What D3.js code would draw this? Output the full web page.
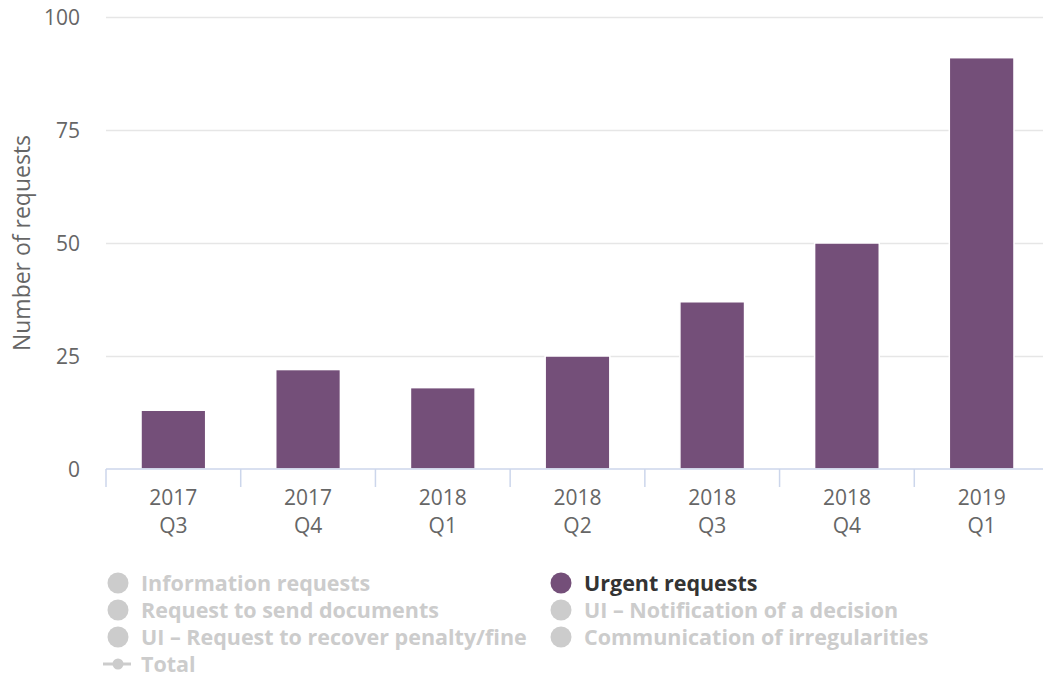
<!DOCTYPE html>
<html><head><meta charset="utf-8">
<script src="https://cdn.jsdelivr.net/npm/d3@7"></script>
<style>
html,body{margin:0;padding:0;background:#fff;overflow:hidden}
svg{display:block;font-family:"Open Sans","Noto Sans",sans-serif}
</style></head>
<body><svg id="c" width="1043" height="679"></svg>
<script>
const years = ["2017","2017","2018","2018","2018","2018","2019"];
const quarters = ["Q3","Q4","Q1","Q2","Q3","Q4","Q1"];
const categories = years.map((y,i)=>y+" "+quarters[i]);
const urgentRequests = [13, 22, 18, 25, 37, 50, 91];
const yTicks = [0, 25, 50, 75, 100];
const legendItems = ["Information requests","Urgent requests","Request to send documents","UI – Notification of a decision","UI – Request to recover penalty/fine","Communication of irregularities","Total"];
const legendActive = [false,true,false,false,false,false,false];
const barColor = "#744f79";

const svg = d3.select("#c");
const L = 106, R = 1049, T = 17, B = 469;
const x = d3.scaleBand().domain(categories).range([L,R]).paddingInner(0.52).paddingOuter(0.26);
const y = d3.scaleLinear().domain([0,100]).range([B,T]);

// gridlines
svg.append("g").selectAll("line").data(yTicks.filter(d=>d>0)).join("line")
  .attr("x1",L).attr("x2",1043).attr("y1",d=>Math.round(y(d))+0.5).attr("y2",d=>Math.round(y(d))+0.5)
  .attr("stroke","#e6e6e6").attr("stroke-width",1.5);

// y labels
svg.append("g").selectAll("text").data(yTicks).join("text")
  .attr("x",80).attr("y",d=>y(d)+7.5).attr("text-anchor","end")
  .attr("font-size",21).attr("fill","#666").text(d=>d);

// axis title
svg.append("text").attr("transform","translate(30,243) rotate(-90)")
  .attr("text-anchor","middle").attr("font-size",23).attr("fill","#666").text("Number of requests");

// bars
svg.append("g").selectAll("rect").data(urgentRequests).join("rect")
  .attr("x",(d,i)=>x(categories[i])).attr("width",x.bandwidth())
  .attr("y",d=>y(d)).attr("height",d=>B-y(d)).attr("fill",barColor)
  .attr("stroke","#ffffff").attr("stroke-width",1.5);

// x axis
svg.append("line").attr("x1",L).attr("x2",R).attr("y1",B).attr("y2",B).attr("stroke","#ccd6eb").attr("stroke-width",1.5);
const ticksPos = d3.range(categories.length+1).map(i=>L+i*(R-L)/categories.length);
svg.append("g").selectAll("line").data(ticksPos).join("line")
  .attr("x1",d=>d).attr("x2",d=>d).attr("y1",B).attr("y2",B+18)
  .attr("stroke","#ccd6eb").attr("stroke-width",1.5);
const xl = svg.append("g").selectAll("text").data(categories).join("text")
  .attr("x",d=>x(d)+x.bandwidth()/2).attr("text-anchor","middle").attr("font-size",21).attr("fill","#666");
xl.append("tspan").attr("x",d=>x(d)+x.bandwidth()/2).attr("y",505).text((d,i)=>years[i]);
xl.append("tspan").attr("x",d=>x(d)+x.bandwidth()/2).attr("y",533).text((d,i)=>quarters[i]);

// legend
const colX = [118, 561];
const rowY = [583, 610, 637, 664];
const lg = svg.append("g").selectAll("g").data(legendItems).join("g")
  .attr("transform",(d,i)=>`translate(${colX[i%2]},${rowY[Math.floor(i/2)]})`);
lg.each(function(d,i){
  const g = d3.select(this);
  const col = legendActive[i] ? barColor : "#cccccc";
  if (d === "Total") {
    g.append("line").attr("x1",-15).attr("x2",13).attr("y1",0).attr("y2",0).attr("stroke",col).attr("stroke-width",3);
    g.append("circle").attr("r",5.5).attr("fill",col);
  } else {
    g.append("circle").attr("r",10.5).attr("fill",col);
  }
  g.append("text").attr("x",23).attr("y",8).attr("font-size",21.5).attr("font-weight","bold")
    .attr("fill",legendActive[i] ? "#333333" : "#cccccc").text(d);
});
</script></body></html>
